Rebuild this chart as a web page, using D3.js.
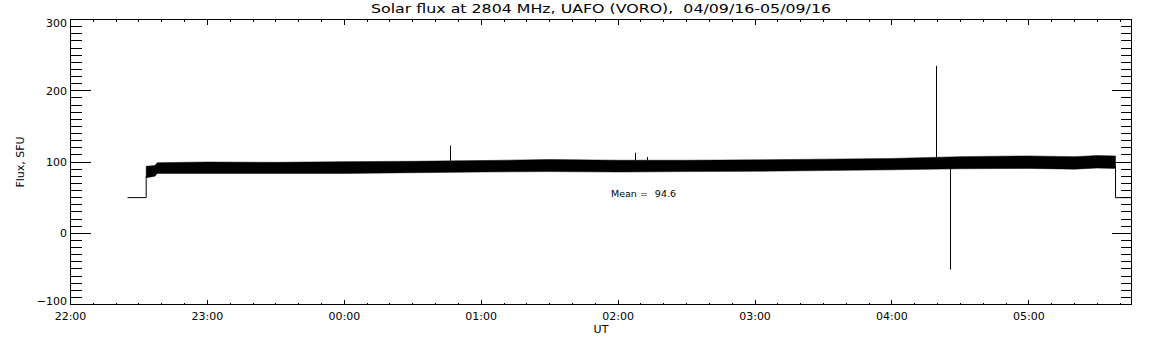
<!DOCTYPE html>
<html><head><meta charset="utf-8">
<script src="https://cdn.jsdelivr.net/npm/d3@7"></script>
<style>
html,body{margin:0;padding:0;background:#fff;}
svg{display:block;}
text{font-family:"DejaVu Sans",sans-serif;fill:#000;}
</style></head><body>
<svg id="chart" width="1152" height="345"></svg>
<script>
// ---- data ----
const titleText = "Solar flux at 2804 MHz, UAFO (VORO),  04/09/16-05/09/16";
const yLabelText = "Flux, SFU";
const xLabelText = "UT";
const meanLabel = "Mean =";
const meanValue = 94.6;

const xDomain = ["22:00", "05:45"];
const yDomain = [-100, 300];
const yTickValues = [-100, 0, 100, 200, 300];

// envelope of the dense flux record (SFU)
const bandTimes = ["22:33:10","22:37","22:38","23:00","23:30","00:00","00:30","01:00","01:30","02:00","02:30","03:00","03:30","04:00","04:30","05:00","05:20","05:30","05:38"];
const bandHigh  = [94, 95, 99, 100, 99.5, 100.5, 101, 102, 103.5, 102.5, 102.5, 103, 104, 105, 107.5, 108.5, 107.5, 109, 108.5];
const bandLow   = [78, 80, 84, 84, 84, 84, 85, 86, 86.5, 86, 86.5, 87, 88, 89, 90.5, 91, 90, 91.5, 91];

// flat segments before / after the record
const leadTimes  = ["22:25", "22:33:10", "22:33:10"];
const leadValues = [50, 50, 80];
const tailTimes  = ["05:38", "05:38", "05:45"];
const tailValues = [95, 50, 50];

// isolated spikes
const spikeTimes = ["00:46:20", "02:07:20", "02:12:40", "04:19:30", "04:25:35"];
const spikeBase  = [100, 102, 102, 106, 90];
const spikePeak  = [123, 113, 107, 235, -51];

// ---- helpers ----
function parseT(s){
  const [h, m, sec = 0] = s.split(":").map(Number);
  const day = h >= 12 ? 4 : 5;
  return new Date(Date.UTC(2016, 8, day, h, m, sec));
}

const svg = d3.select("#chart");
const L = 70.5, R = 1131.5, T = 19.5, B = 304.5;

const x = d3.scaleUtc().domain(xDomain.map(parseT)).range([L, R]);
const y = d3.scaleLinear().domain(yDomain).range([B, T]);

// ---- data marks ----
const band = bandTimes.map((t, i) => ({t: parseT(t), hi: bandHigh[i], lo: bandLow[i]}));
svg.append("path")
  .datum(band)
  .attr("d", d3.area().x(d => x(d.t)).y0(d => y(d.lo)).y1(d => y(d.hi)))
  .attr("fill", "#000").attr("stroke", "#000").attr("stroke-width", 0.5);

const line = d3.line().x(d => x(d.t)).y(d => y(d.v));
[[leadTimes, leadValues], [tailTimes, tailValues]].forEach(([ts, vs]) => {
  svg.append("path")
    .datum(ts.map((t, i) => ({t: parseT(t), v: vs[i]})))
    .attr("d", line)
    .attr("fill", "none").attr("stroke", "#000").attr("stroke-width", 1);
});

svg.selectAll("line.spike")
  .data(spikeTimes.map((t, i) => ({t: parseT(t), a: spikeBase[i], b: spikePeak[i]})))
  .join("line").attr("class", "spike")
  .attr("x1", d => Math.round(x(d.t)) + 0.5).attr("x2", d => Math.round(x(d.t)) + 0.5)
  .attr("y1", d => y(d.a)).attr("y2", d => y(d.b))
  .attr("stroke", "#000").attr("stroke-width", 1);

// ---- axes ----
const hourTicks = d3.utcHour.every(1);
const minorTicks = d3.utcMinute.every(10);
const yMinor = d3.range(yDomain[0], yDomain[1] + 1, 10);

function clean(g){ g.select(".domain").remove(); g.selectAll(".tick line").attr("stroke", "#000").attr("shape-rendering", "crispEdges"); }

// bottom
svg.append("g").attr("transform", `translate(0,${B})`)
  .call(d3.axisBottom(x).ticks(minorTicks).tickFormat("").tickSizeInner(-2).tickSizeOuter(0).offset(0))
  .call(clean);
svg.append("g").attr("transform", `translate(0,${B})`)
  .call(d3.axisBottom(x).ticks(hourTicks).tickFormat(d3.utcFormat("%H:%M")).tickSizeInner(-5).tickSizeOuter(0).offset(0))
  .call(clean)
  .call(g => g.selectAll(".tick text").attr("y", 15.5).attr("dy", 0)
    .attr("font-size", 11).attr("font-family", "DejaVu Sans").attr("fill", "#000"));
// top
svg.append("g").attr("transform", `translate(0,${T})`)
  .call(d3.axisTop(x).ticks(minorTicks).tickFormat("").tickSizeInner(-2).tickSizeOuter(0).offset(0))
  .call(clean);
svg.append("g").attr("transform", `translate(0,${T})`)
  .call(d3.axisTop(x).ticks(hourTicks).tickFormat("").tickSizeInner(-5).tickSizeOuter(0).offset(0))
  .call(clean);
// left
svg.append("g").attr("transform", `translate(${L},0)`)
  .call(d3.axisLeft(y).tickValues(yMinor).tickFormat("").tickSizeInner(-11).tickSizeOuter(0).offset(0))
  .call(clean);
svg.append("g").attr("transform", `translate(${L},0)`)
  .call(d3.axisLeft(y).tickValues(yTickValues).tickFormat(d3.format("d")).tickSizeInner(-20).tickSizeOuter(0).offset(0))
  .call(clean)
  .call(g => g.selectAll(".tick text")
    .attr("x", -3.5)
    .attr("dy", d => d === yDomain[1] ? 7.5 : (d === yDomain[0] ? 0 : 3.8))
    .attr("font-size", 11).attr("font-family", "DejaVu Sans").attr("fill", "#000"));
// right
svg.append("g").attr("transform", `translate(${R},0)`)
  .call(d3.axisRight(y).tickValues(yMinor).tickFormat("").tickSizeInner(-11).tickSizeOuter(0).offset(0))
  .call(clean);
svg.append("g").attr("transform", `translate(${R},0)`)
  .call(d3.axisRight(y).tickValues(yTickValues).tickFormat("").tickSizeInner(-20).tickSizeOuter(0).offset(0))
  .call(clean);

// frame
svg.append("rect").attr("x", L).attr("y", T).attr("width", R - L).attr("height", B - T)
  .attr("fill", "none").attr("stroke", "#000").attr("stroke-width", 1).attr("shape-rendering", "crispEdges");

// ---- texts ----
svg.append("text").attr("x", (L + R) / 2).attr("y", 13)
  .attr("text-anchor", "middle").attr("font-size", 13)
  .attr("font-family", "Liberation Sans")
  .style("white-space", "pre")
  .attr("textLength", 460).attr("lengthAdjust", "spacingAndGlyphs")
  .text(titleText);

svg.append("text").attr("transform", `translate(24,${(T + B) / 2}) rotate(-90)`)
  .attr("text-anchor", "middle").attr("font-size", 11)
  .text(yLabelText);

svg.append("text").attr("x", (L + R) / 2).attr("y", 333)
  .attr("text-anchor", "middle").attr("font-size", 11)
  .text(xLabelText);

svg.append("text").attr("x", 611).attr("y", 197).attr("font-size", 9.5)
  .text(meanLabel);
svg.append("text").attr("x", 676).attr("y", 197).attr("font-size", 9.5)
  .attr("text-anchor", "end")
  .text(d3.format(".1f")(meanValue));
</script>
</body></html>
